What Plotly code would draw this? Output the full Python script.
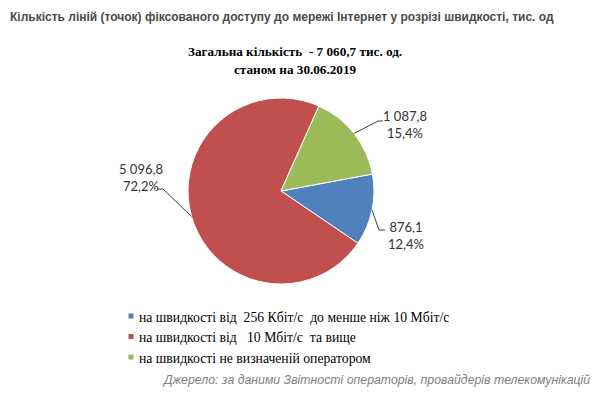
import math
import plotly.graph_objects as go

# ---- data ----
categories = [
    "на швидкості від\u00a0 256 Кбіт/с\u00a0 до менше ніж 10 Мбіт/с",
    "на швидкості від\u00a0\u00a0 10 Мбіт/с\u00a0 та вище",
    "на швидкості не визначеній оператором",
]
values = [876.1, 5096.8, 1087.8]
colors = ["#4F81BD", "#C0504D", "#9BBB59"]

title_text = "Кількість ліній (точок) фіксованого доступу до мережі Інтернет у розрізі швидкості, тис. од"
subtitle_lines = ["Загальна кількість\u00a0 - 7 060,7 тис. од.", "станом на 30.06.2019"]
source_text = "Джерело: за даними Звітності операторів, провайдерів телекомунікацій"

# ---- layout constants (pixels, page coordinates) ----
OFF = 8                 # default page body margin
W, H = 598, 391         # figure size
CX, CY, R = 281, 191, 93
ROTATION = 79.5  # first slice start, degrees clockwise from 12 o'clock
# per-slice label styling: elbow point, end of leader, label center
label_style = [
    dict(elbow=(379, 230), end=(385, 230), text=(406, 235)),
    dict(elbow=(163, 189), end=(157, 189), text=(141, 177)),
    dict(elbow=(378, 121), end=(383, 121), text=(405, 125)),
]


def px(x):
    return (x - OFF) / W


def py(y):
    return 1 - (y - OFF) / H


def fmt_num(v):
    s = f"{v:,.1f}"
    return s.replace(",", " ").replace(".", ",")


total = sum(values)

fig = go.Figure()
fig.add_trace(go.Pie(
    labels=categories,
    values=values,
    sort=False,
    direction="clockwise",
    rotation=ROTATION,
    marker=dict(colors=colors, line=dict(color="white", width=1)),
    textinfo="none",
    hoverinfo="label+value+percent",
    showlegend=False,
    domain=dict(x=[px(CX - R), px(CX + R)], y=[py(CY + R), py(CY - R)]),
))

shapes = []
annotations = []

# leader lines + labels, computed from slice mid-angles
cum = 0.0
for v, st in zip(values, label_style):
    mid = ROTATION + 360 * (cum + v / 2) / total
    cum += v
    a = math.radians(mid)
    ex = CX + R * math.sin(a)
    ey = CY - R * math.cos(a)
    pts = [(ex, ey), st["elbow"], st["end"]]
    path = "M " + " L ".join(f"{px(x)},{py(y)}" for x, y in pts)
    shapes.append(dict(type="path", path=path, xref="paper", yref="paper",
                       line=dict(color="#404040", width=1)))
    pct = 100 * v / total
    txt = f"{fmt_num(v)}<br>{pct:.1f}%".replace(".", ",")
    annotations.append(dict(
        x=px(st["text"][0]), y=py(st["text"][1]), xref="paper", yref="paper",
        text=txt, showarrow=False, align="center", xanchor="center", yanchor="middle",
        font=dict(family="Lato, Liberation Sans", size=13, color="#333333"),
    ))

# manual legend
leg_x, leg_y0, leg_dy = 131, 316, 20.5
for i, (c, col) in enumerate(zip(categories, colors)):
    y = leg_y0 + i * leg_dy
    shapes.append(dict(type="rect", xref="paper", yref="paper",
                       x0=px(leg_x - 2.5), x1=px(leg_x + 2.5),
                       y0=py(y + 2.5), y1=py(y - 2.5),
                       fillcolor=col, line=dict(width=0)))
    annotations.append(dict(
        x=px(leg_x + 6), y=py(y + 1), xref="paper", yref="paper",
        text=c, showarrow=False, xanchor="left", yanchor="middle",
        font=dict(family="Liberation Serif", size=13.7, color="#000000"),
    ))

# titles
annotations.append(dict(
    x=px(8), y=py(17), xref="paper", yref="paper", text=title_text,
    showarrow=False, xanchor="left", yanchor="middle",
    font=dict(family="Liberation Sans", size=12, color="#4a4a4a", weight="bold"),
))
for i, line in enumerate(subtitle_lines):
    annotations.append(dict(
        x=px(295), y=py(52 + 17 * i), xref="paper", yref="paper", text=line,
        showarrow=False, xanchor="center", yanchor="middle",
        font=dict(family="Liberation Serif", size=13.2, color="#000000", weight="bold"),
    ))
annotations.append(dict(
    x=px(592), y=py(380), xref="paper", yref="paper", text=source_text,
    showarrow=False, xanchor="right", yanchor="middle",
    font=dict(family="Liberation Sans", size=12.3, color="#808080", style="italic"),
))

fig.update_layout(
    width=W, height=H,
    margin=dict(l=0, r=0, t=0, b=0),
    paper_bgcolor="white", plot_bgcolor="white",
    shapes=shapes, annotations=annotations,
    showlegend=False,
)

fig.write_html("out.html")
